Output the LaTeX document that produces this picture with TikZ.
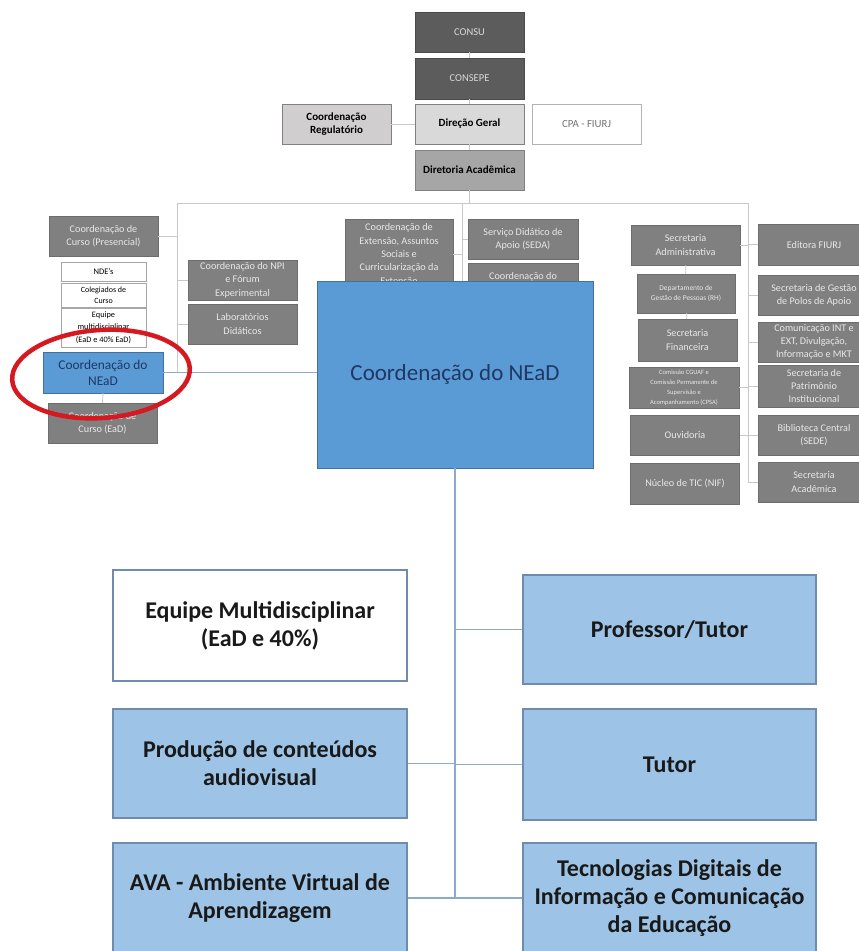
\documentclass[tikz,border=0pt]{standalone}
\usepackage{fontspec}
\setmainfont{Carlito}
\definecolor{consugray}{RGB}{92,92,92}
\definecolor{midgray}{RGB}{128,128,128}
\definecolor{palegray}{RGB}{217,217,217}
\definecolor{regulgray}{RGB}{208,206,206}
\definecolor{acadgray}{RGB}{166,166,166}
\definecolor{lineg}{RGB}{200,200,200}
\definecolor{neadblue}{RGB}{91,155,213}
\definecolor{neadedge}{RGB}{65,113,156}
\definecolor{neadtext}{RGB}{31,56,100}
\definecolor{skyblue}{RGB}{157,195,230}
\definecolor{skyedge}{RGB}{112,140,172}
\definecolor{linkblue}{RGB}{140,170,202}
\definecolor{ringred}{RGB}{214,24,32}
\begin{document}
\begin{tikzpicture}[x=1pt, y=-1pt,
  orgbox/.style={rectangle, draw, inner sep=0pt, align=center, minimum width=109, minimum height=40},
  darkbox/.style={orgbox, fill=consugray, draw=consugray!80!black, text=palegray, font=\fontsize{10.5}{12}\selectfont},
  graybox/.style={orgbox, fill=midgray, draw=midgray!85!black, text=palegray!60!white, font=\fontsize{10.2}{13.3}\selectfont},
  tinybox/.style={graybox, font=\fontsize{7.4}{9.5}\selectfont},
  lightbox/.style={orgbox, draw=gray, font=\fontsize{11}{12.5}\selectfont\bfseries},
  whitebox/.style={orgbox, fill=white, draw=gray!70, minimum width=85, font=\fontsize{8.5}{10}\selectfont},
  bluebox/.style={orgbox, fill=neadblue, draw=neadedge, text=neadtext},
  bigbox/.style={orgbox, minimum width=294, minimum height=110, fill=skyblue, draw=skyedge, line width=1.2pt, text=black!90, font=\fontsize{24}{28}\selectfont\bfseries},
  link/.style={draw=lineg, line width=0.8pt},
  bluelink/.style={draw=linkblue, line width=1.4pt}]
\useasboundingbox (0,0) rectangle (859,951);
\clip (0,0) rectangle (859,951);
\fill[white] (0,0) rectangle (859,951);
% direcao
\node[darkbox] (consu) at (469.5,32) {CONSU};
\node[darkbox, minimum height=41] (consepe) at (469.5,78.5) {CONSEPE};
\node[lightbox, fill=palegray] (dirgeral) at (469.5,124) {Direção Geral};
\node[lightbox, fill=regulgray] (regul) at (336.5,124) {Coordenação\\Regulatório};
\node[orgbox, fill=white, draw=gray!60, text=gray!90!black, font=\fontsize{10.8}{12}\selectfont] (cpa) at (586.5,124) {CPA - FIURJ};
\node[lightbox, fill=acadgray] (diracad) at (469.5,170) {Diretoria Acadêmica};
\coordinate (busL) at (177,203);
\coordinate (busR) at (748,203);
\coordinate (busM) at (462,203);
\coordinate (leftend) at (177,373);
\coordinate (rightend) at (748,482);
\draw[link] (consu) -- (consepe) -- (dirgeral) -- (diracad);
\draw[link] (regul) -- (dirgeral);
\draw[link] (diracad.south) -- (diracad.south |- busL);
\draw[link] (busL) -- (busR);
\draw[link] (busL) -- (leftend);
\draw[link] (busR) -- (rightend);
\draw[link] (busM) -- ++(0,90);
% esquerda
\node[graybox] (cpres) at (103.5,236) {Coordenação de\\Curso (Presencial)};
\node[whitebox, minimum height=19] (nde) at (103.5,271.5) {NDE's};
\node[whitebox, minimum height=24, font=\fontsize{8}{10.5}\selectfont] (coleg) at (103.5,295) {Colegiados de\\Curso};
\node[whitebox, minimum height=39, font=\fontsize{8.3}{12.5}\selectfont] (equipe) at (103.5,327.5) {Equipe\\multidisciplinar\\(EaD e 40\% EaD)};
\node[bluebox, minimum width=120, minimum height=41, font=\fontsize{13.4}{16}\selectfont] (snead) at (103,372.5) {Coordenação do\\NEaD};
\node[graybox] (cead) at (102.5,423) {Coordenação de\\Curso (EaD)};
\node[graybox] (npi) at (242.5,280) {Coordenação do NPI\\e Fórum\\Experimental};
\node[graybox] (labs) at (242.5,324) {Laboratórios\\Didáticos};
\draw[link] (cpres.east) -- (cpres.east -| busL);
\draw[link] (npi.west) -- (npi.west -| busL);
\draw[link] (labs.west) -- (labs.west -| busL);
\draw[link] (snead.east) -- (snead.east -| busL);
\draw[link] (snead.south) -- (cead.north);
% meio
\node[graybox, minimum width=108, minimum height=70] (ext) at (399,254) {Coordenação de\\Extensão, Assuntos\\Sociais e\\Curricularização da\\Extensão};
\node[graybox, minimum width=110] (seda) at (523,239) {Serviço Didático de\\Apoio (SEDA)};
\node[graybox, minimum width=110, minimum height=28] (coordx) at (523,277) {Coordenação do};
\draw[link] (ext.east) -- (ext.east -| busM);
\draw[link] (seda.west) -- (seda.west -| busM);
\node[bluebox, minimum width=276, minimum height=187, font=\fontsize{23}{28}\selectfont] (bignead) at (455,374.5) {Coordenação do NEaD};
\draw[bluelink] (snead.east) -- (snead.east -| bignead.west);
% direita
\node[graybox] (sadm) at (685.5,245) {Secretaria\\Administrativa};
\node[tinybox, minimum width=98, minimum height=39] (rh) at (686,293.5) {Departamento de\\Gestão de Pessoas (RH)};
\node[graybox, minimum width=99, minimum height=42] (sfin) at (687.5,340) {Secretaria\\Financeira};
\node[tinybox, minimum width=110, minimum height=41, font=\fontsize{6.5}{10}\selectfont] (comis) at (684,387.5) {Comissão CGUAF e\\Comissão Permanente de\\Supervisão e\\Acompanhamento (CPSA)};
\node[graybox] (ouvid) at (685,435) {Ouvidoria};
\node[graybox, minimum height=41] (nucleo) at (685,483.5) {Núcleo de TIC (NIF)};
\node[graybox, minimum width=112, minimum height=41] (editora) at (814,244.5) {Editora FIURJ};
\node[graybox, minimum width=112] (polos) at (814,295) {Secretaria de Gestão\\de Polos de Apoio};
\node[graybox, minimum width=112] (comunic) at (814,342) {Comunicação INT e\\EXT, Divulgação,\\Informação e MKT};
\node[graybox, minimum width=112, minimum height=42] (patrim) at (814,386) {Secretaria de\\Patrimônio\\Institucional};
\node[graybox, minimum width=112] (biblio) at (814,435) {Biblioteca Central\\(SEDE)};
\node[graybox, minimum width=112] (acadsec) at (814,482) {Secretaria\\Acadêmica};
\draw[link] (sadm) -- (rh) -- (sfin);
\draw[link] (sadm.east) -- (sadm.east -| busR);
\draw[link] (comis.east) -- (comis.east -| busR);
\draw[link] (ouvid.east) -- (ouvid.east -| busR);
\foreach \n in {editora,polos,comunic,patrim,biblio,acadsec}
  \draw[link] (\n.west) -- (\n.west -| busR);
% destaque
\draw[ringred, line width=4.5pt, rotate around={4:(101,374)}] (101,374) ellipse [x radius=89, y radius=44];
% NEaD
\node[bigbox, fill=white, minimum height=111] (eqm) at (260,625.5) {Equipe Multidisciplinar\\(EaD e 40\%)};
\node[bigbox, minimum width=293, minimum height=109] (prof) at (669.5,629.5) {Professor/Tutor};
\node[bigbox, minimum height=109] (prod) at (260,763.5) {Produção de conteúdos\\audiovisual};
\node[bigbox, minimum width=293, minimum height=111] (tutor) at (669.5,764.5) {Tutor};
\node[bigbox] (ava) at (260,898) {AVA - Ambiente Virtual de\\Aprendizagem};
\node[bigbox, minimum width=293] (tdic) at (669.5,898) {Tecnologias Digitais de\\Informação e Comunicação\\da Educação};
\coordinate (trunk) at (455,898);
\draw[bluelink] (bignead.south) -- (trunk);
\draw[bluelink] (prof.west) -- (prof.west -| trunk);
\draw[bluelink] (prod.east) -- (prod.east -| trunk);
\draw[bluelink] (tutor.west) -- (tutor.west -| trunk);
\draw[bluelink] (ava.east) -- (tdic.west);
\end{tikzpicture}
\end{document}
